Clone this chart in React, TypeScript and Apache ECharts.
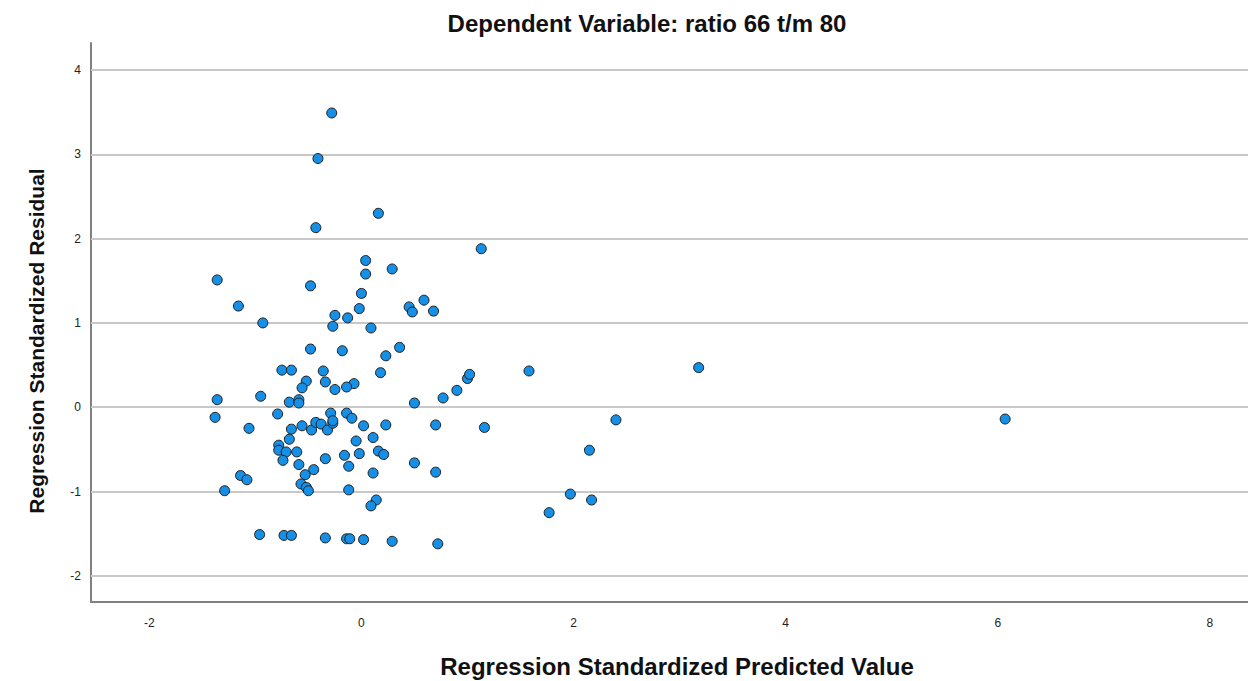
import React, { useEffect, useRef } from "react";
import * as echarts from "echarts";

const titleText = "Dependent Variable: ratio 66 t/m 80";
const xAxisTitle = "Regression Standardized Predicted Value";
const yAxisTitle = "Regression Standardized Residual";

const yGridTicks = [-2, -1, 0, 1, 2, 3, 4];

const predicted = [
  -0.28, -0.41, 0.16, -0.43, 1.13, 0.04, 0.29, 0.04, -1.36, -0.48,
  0.0, -1.16, 0.45, 0.48, 0.59, 0.68, -0.93, -0.02, -0.25, -0.13,
  -0.27, 0.09, -0.48, -0.18, 0.36, 0.23, 0.18, -0.75, -0.66, -0.36,
  -0.52, -0.34, -0.56, -0.07, -0.14, -0.25, -1.36, -0.95, -0.68, -0.59,
  -0.59, 0.5, 0.77, 0.9, 1.0, 1.02, 1.58, 3.18, -1.38, -0.79,
  -0.29, -0.14, -0.09, -1.06, -0.66, -0.56, -0.47, -0.43, -0.38, -0.32,
  -0.27, -0.27, 0.02, 0.23, 0.7, 1.16, 2.4, 6.07, -0.68, -0.78,
  -0.78, -0.71, -0.61, -0.74, -0.59, -0.34, -0.05, 0.11, -0.16, -0.02,
  0.16, 0.21, -0.12, 0.11, 0.5, 0.7, 2.15, -0.45, -0.53, -1.14,
  -1.08, -0.57, -0.52, -0.5, -1.29, -0.12, 0.14, 0.09, 1.97, 2.17,
  1.77, -0.96, -0.73, -0.66, -0.34, -0.14, -0.11, 0.02, 0.29, 0.72,
];

const residual = [
  3.49, 2.95, 2.3, 2.13, 1.88, 1.74, 1.64, 1.58, 1.51, 1.44,
  1.35, 1.2, 1.19, 1.13, 1.27, 1.14, 1.0, 1.17, 1.09, 1.06,
  0.96, 0.94, 0.69, 0.67, 0.71, 0.61, 0.41, 0.44, 0.44, 0.43,
  0.31, 0.3, 0.23, 0.28, 0.24, 0.21, 0.09, 0.13, 0.06, 0.09,
  0.05, 0.05, 0.11, 0.2, 0.34, 0.39, 0.43, 0.47, -0.12, -0.08,
  -0.07, -0.07, -0.13, -0.25, -0.26, -0.22, -0.27, -0.18, -0.2, -0.27,
  -0.19, -0.16, -0.22, -0.21, -0.21, -0.24, -0.15, -0.14, -0.38, -0.45,
  -0.51, -0.53, -0.53, -0.63, -0.68, -0.61, -0.4, -0.36, -0.57, -0.55,
  -0.52, -0.56, -0.7, -0.78, -0.66, -0.77, -0.51, -0.74, -0.8, -0.81,
  -0.86, -0.91, -0.95, -0.99, -0.99, -0.98, -1.1, -1.17, -1.03, -1.1,
  -1.25, -1.51, -1.52, -1.52, -1.55, -1.56, -1.56, -1.57, -1.59, -1.62,
];

const FONT = "'Liberation Sans', Arial, sans-serif";

export default function App() {
  const ref = useRef<HTMLDivElement>(null);

  useEffect(() => {
    if (!ref.current) return;
    const chart = echarts.init(ref.current, null, { renderer: "svg" });
    const points = predicted.map((x, i) => [x, residual[i]]);
    const intLabel = (v: number) =>
      Math.abs(v - Math.round(v)) < 1e-9 ? String(Math.round(v)) : "";

    chart.setOption({
      animation: false,
      backgroundColor: "#ffffff",
      textStyle: { fontFamily: FONT },
      grid: { left: 91, right: 0, top: 43, bottom: 79, containLabel: false },
      graphic: [
        {
          type: "text",
          x: 647,
          y: 23,
          style: {
            text: titleText,
            font: `bold 24px ${FONT}`,
            fill: "#111111",
            textAlign: "center",
            textVerticalAlign: "middle",
          },
        },
        {
          type: "text",
          x: 677,
          y: 666,
          style: {
            text: xAxisTitle,
            font: `bold 24px ${FONT}`,
            fill: "#111111",
            textAlign: "center",
            textVerticalAlign: "middle",
          },
        },
        {
          type: "text",
          x: 36,
          y: 341,
          rotation: Math.PI / 2,
          style: {
            text: yAxisTitle,
            font: `bold 21px ${FONT}`,
            fill: "#111111",
            textAlign: "center",
            textVerticalAlign: "middle",
          },
        },
      ],
      xAxis: {
        type: "value",
        min: -2.55,
        max: 8.36,
        splitNumber: 5,
        axisLine: { show: true, onZero: false, lineStyle: { color: "#808080", width: 2 } },
        axisTick: { show: false },
        splitLine: { show: false },
        axisLabel: {
          formatter: (v: number) => (Math.round(v) % 2 === 0 ? intLabel(v) : ""),
          showMinLabel: false,
          showMaxLabel: false,
          color: "#222222",
          fontSize: 12,
          fontFamily: FONT,
          margin: 15,
        },
      },
      yAxis: {
        type: "value",
        min: -2.31,
        max: 4.32,
        splitNumber: 6,
        axisLine: { show: true, onZero: false, lineStyle: { color: "#808080", width: 2 } },
        axisTick: { show: false },
        splitLine: { show: false },
        axisLabel: {
          formatter: intLabel,
          showMinLabel: false,
          showMaxLabel: false,
          color: "#222222",
          fontSize: 12,
          fontFamily: FONT,
          margin: 10,
        },
      },
      series: [
        {
          type: "scatter",
          data: points,
          symbol: "circle",
          symbolSize: 10,
          itemStyle: { color: "#1690e6", borderColor: "#1c1c1c", borderWidth: 1, opacity: 1 },
          z: 3,
          markLine: {
            silent: true,
            symbol: "none",
            label: { show: false },
            lineStyle: { color: "#c8c8c8", width: 2, type: "solid" },
            data: yGridTicks.map((v) => ({ yAxis: v })),
            z: 1,
          },
        },
      ],
    });

    return () => chart.dispose();
  }, []);

  return (
    <div
      ref={ref}
      style={{ position: "fixed", left: 0, top: 0, width: 1248, height: 681, background: "#fff" }}
    />
  );
}
